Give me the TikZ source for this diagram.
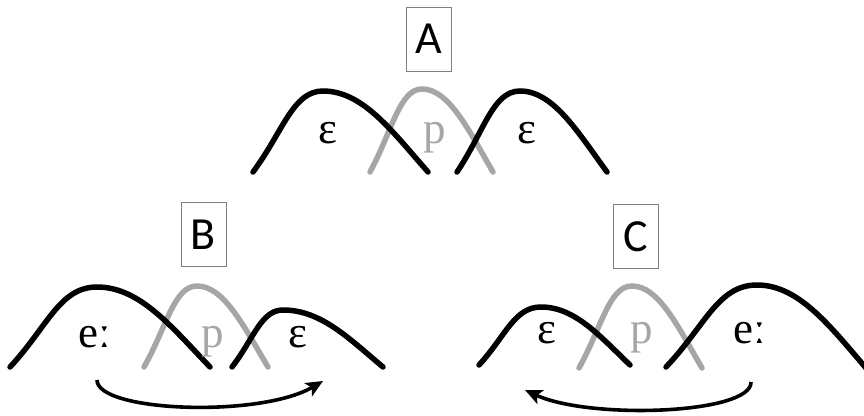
\documentclass[tikz,border=0pt]{standalone}
\usepackage{fontspec}
\setmainfont{Liberation Serif}
\newfontfamily\boxfont{Carlito}
\usetikzlibrary{arrows.meta}
\definecolor{arcgray}{RGB}{166,166,166}
\definecolor{boxgray}{RGB}{128,128,128}
\newcommand\myhump[7]{%
  \pgfmathsetmacro\hca{#2+0.43*(#4-#2)}%
  \pgfmathsetmacro\hcb{#3-0.5*(#3-#5)}%
  \pgfmathsetmacro\hcc{#4-0.43*(#4-#2)}%
  \pgfmathsetmacro\hcd{#4+0.38*(#6-#4)}%
  \pgfmathsetmacro\hce{#6-0.34*(#6-#4)}%
  \pgfmathsetmacro\hcf{#7-0.5*(#7-#5)}%
  \draw[#1] (#2,#3) .. controls (\hca,\hcb) and (\hcc,#5) .. (#4,#5) .. controls (\hcd,#5) and (\hce,\hcf) .. (#6,#7);}
\tikzset{
  blackhump/.style={line width=5.5pt, line cap=round, black},
  grayhump/.style={line width=5.5pt, line cap=round, arcgray},
  lbl/.style={font=\fontsize{45}{45}\selectfont, anchor=base, inner sep=0pt},
  glbl/.style={lbl, text=arcgray},
  tag/.style={draw=boxgray, line width=0.8pt, minimum width=45pt, minimum height=64pt, inner sep=0pt, font=\boxfont\fontsize{46}{46}\selectfont},
  move/.style={line width=3.6pt, -{Stealth[length=17pt,width=15pt,inset=4pt]}}
}
\begin{document}
\begin{tikzpicture}[x=1pt,y=-1pt]
\useasboundingbox (0,0) rectangle (864,415);
% ---------- A ----------
\node[tag] (tagA) at (428.5,39) {A};
\myhump{grayhump}{370}{172}{422}{89}{493}{172}
\myhump{blackhump}{253}{172}{323}{91}{428}{172}
\myhump{blackhump}{457}{172}{520}{91}{607}{172}
\node[lbl] (aeps1) at (328,143) {ε};
\node[glbl] (ap) at (435,143) {p};
\node[lbl] (aeps2) at (527,143) {ε};
% ---------- B ----------
\node[tag] (tagB) at (203.5,234.5) {B};
\myhump{grayhump}{144}{367}{197}{286}{268}{367}
\myhump{blackhump}{10}{367}{97}{287}{210}{367}
\myhump{blackhump}{232}{367}{283}{310}{383}{367}
\node[lbl] (be) at (95,347) {eː};
\node[glbl] (bp) at (213,347) {p};
\node[lbl] (beps) at (298,347) {ε};
\coordinate (bfrom) at (97,380);
\coordinate (bto) at (323,381);
\draw[move] (bfrom) .. controls (97,412) and (260,418) .. (bto);
% ---------- C ----------
\node[tag] (tagC) at (635.5,236.5) {C};
\myhump{grayhump}{579}{368}{632}{286}{702}{368}
\myhump{blackhump}{479}{365}{541}{307}{630}{365}
\myhump{blackhump}{666}{367}{757}{285}{872}{375}
\node[lbl] (ceps) at (547,343) {ε};
\node[glbl] (cp) at (642,343) {p};
\node[lbl] (ce) at (750,343) {eː};
\coordinate (cfrom) at (751,382);
\coordinate (cto) at (525,390);
\draw[move] (cfrom) .. controls (752,414) and (590,420) .. (cto);
\end{tikzpicture}
\end{document}
